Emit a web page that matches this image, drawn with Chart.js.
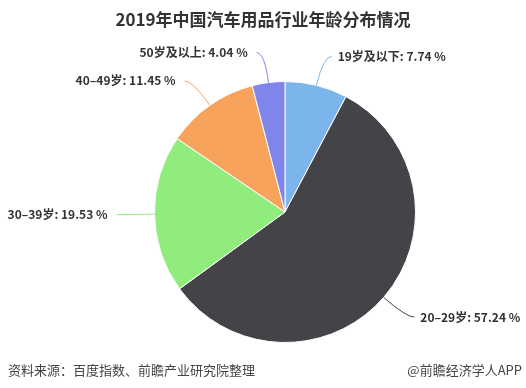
<!DOCTYPE html>
<html>
<head>
<meta charset="utf-8">
<script src="https://cdn.jsdelivr.net/npm/chart.js@4"></script>
<style>
  html, body { margin: 0; padding: 0; background: #fff; }
  #wrap { width: 526px; height: 388px; }
</style>
</head>
<body>
<div id="wrap"><canvas id="pieCanvas"></canvas></div>
<script>
// datos del gráfico
const categorias = ["19岁及以下", "20–29岁", "30–39岁", "40–49岁", "50岁及以上"];
const porcentajes = [7.74, 57.24, 19.53, 11.45, 4.04];
const colores = ["#7cb5ec", "#434348", "#90ed7d", "#f7a35c", "#8085e9"];

const titulo = "2019年中国汽车用品行业年龄分布情况";
const fuente = "资料来源：百度指数、前瞻产业研究院整理";
const marca = "@前瞻经济学人APP";

const FONT = '"Noto Sans CJK SC", "Noto Sans", sans-serif';

// etiquetas con líneas guía, estilo highcharts
const etiquetasPlugin = {
  id: "etiquetas",
  afterDatasetsDraw(chart) {
    const ctx = chart.ctx;
    const arcs = chart.getDatasetMeta(0).data;
    ctx.save();
    arcs.forEach((arc, i) => {
      const { x, y, outerRadius, startAngle, endAngle } = arc.getProps(
        ["x", "y", "outerRadius", "startAngle", "endAngle"], true);
      const mid = (startAngle + endAngle) / 2;
      const cos = Math.cos(mid), sin = Math.sin(mid);
      const x0 = x + cos * outerRadius, y0 = y + sin * outerRadius;
      const x1 = x + cos * (outerRadius + 30), y1 = y + sin * (outerRadius + 30);
      const derecha = cos >= 0;
      const x2 = x1 + (derecha ? 8 : -8);

      ctx.strokeStyle = colores[i];
      ctx.lineWidth = 1;
      ctx.beginPath();
      ctx.moveTo(x0, y0);
      ctx.quadraticCurveTo(x1, y1, x2, y1);
      ctx.stroke();

      ctx.fillStyle = "#333";
      ctx.font = "bold 12px " + FONT;
      ctx.textBaseline = "middle";
      ctx.textAlign = derecha ? "left" : "right";
      const texto = categorias[i] + ": " + porcentajes[i].toFixed(2) + " %";
      ctx.fillText(texto, x2 + (derecha ? 6 : -9), y1);
    });
    ctx.restore();
  },
  afterDraw(chart) {
    const ctx = chart.ctx;
    ctx.save();
    ctx.fillStyle = "#333";
    ctx.font = "bold 17px " + FONT;
    ctx.textAlign = "center";
    ctx.textBaseline = "middle";
    ctx.fillText(titulo, 263, 20);

    ctx.font = "13px " + FONT;
    ctx.fillStyle = "#444";
    ctx.textAlign = "left";
    ctx.fillText(fuente, 8, 370);
    ctx.textAlign = "right";
    ctx.fillText(marca, 522, 370);
    ctx.restore();
  },
};

const config = {
  type: "pie",
  data: {
    labels: categorias,
    datasets: [
      {
        data: porcentajes,
        backgroundColor: colores,
        borderColor: "#ffffff",
        borderWidth: 1,
      },
    ],
  },
  options: {
    responsive: true,
    maintainAspectRatio: false,
    animation: false,
    layout: { padding: { top: 81, bottom: 45, left: 154, right: 110 } },
    plugins: {
      legend: { display: false },
      tooltip: { enabled: false },
    },
  },
  plugins: [etiquetasPlugin],
};

new Chart(document.getElementById("pieCanvas").getContext("2d"), config);
</script>
</body>
</html>
